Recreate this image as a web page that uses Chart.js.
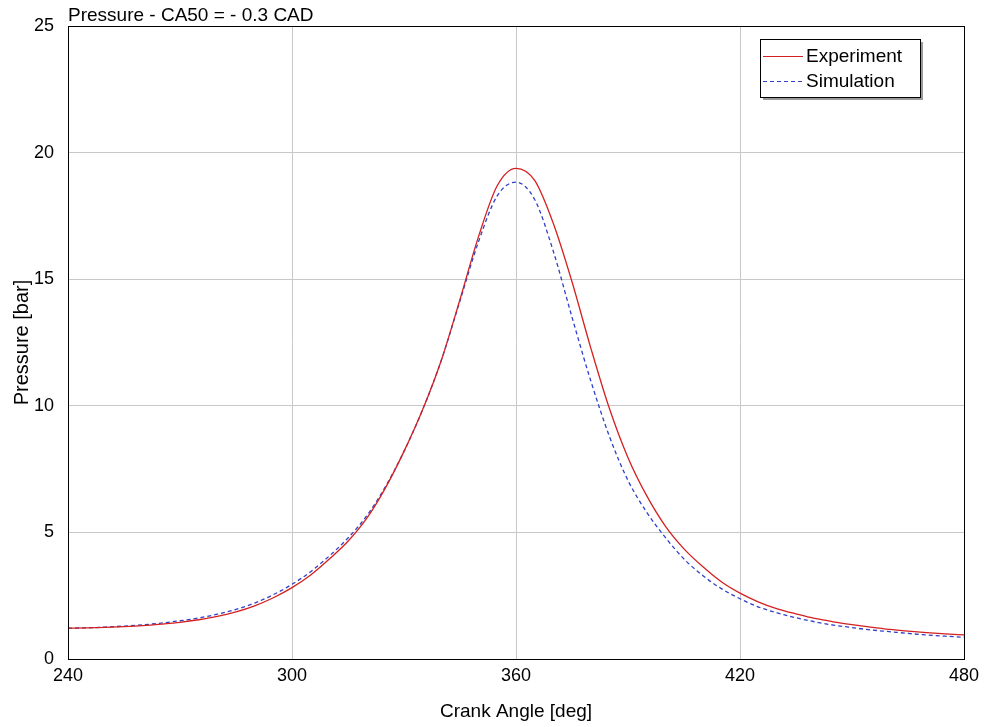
<!DOCTYPE html>
<html>
<head>
<meta charset="utf-8">
<script src="https://cdn.jsdelivr.net/npm/chart.js@4"></script>
<style>
  html, body { margin: 0; padding: 0; background: #fff; }
  #wrap { width: 990px; height: 727px; }
</style>
</head>
<body>
<div id="wrap"><canvas id="pressureChart" width="990" height="727"></canvas></div>
<script>
// --- data ---
const chartTitle = 'Pressure - CA50 = - 0.3 CAD';
const crankAngle = [240, 245, 250, 255, 260, 265, 270, 275, 280, 285, 290, 295, 300, 305, 310, 315, 320, 325, 330, 335,
                    340, 345, 350, 355, 360, 365, 370, 375, 380, 385, 390, 395, 400, 405, 410, 415, 420, 425, 430, 435,
                    440, 445, 450, 455, 460, 465, 470, 475, 480];
const experiment = [1.22, 1.23, 1.25, 1.28, 1.32, 1.38, 1.45, 1.55, 1.68, 1.86, 2.10, 2.42, 2.82, 3.32, 3.95, 4.65, 5.55, 6.75, 8.2, 9.85,
                    11.8, 14.2, 16.7, 18.7, 19.38, 18.9, 17.2, 14.9, 12.3, 9.9, 7.95, 6.45, 5.25, 4.35, 3.65, 3.05, 2.6, 2.25, 1.98, 1.78,
                    1.6, 1.47, 1.36, 1.26, 1.17, 1.1, 1.04, 0.99, 0.95];
const simulation = [1.22, 1.23, 1.26, 1.30, 1.35, 1.42, 1.51, 1.62, 1.77, 1.96, 2.21, 2.54, 2.95, 3.45, 4.07, 4.78, 5.65, 6.8, 8.2, 9.85,
                    11.8, 14.15, 16.5, 18.3, 18.83, 18.15, 16.1, 13.5, 11.0, 8.8, 7.05, 5.8, 4.8, 3.95, 3.3, 2.78, 2.38, 2.05, 1.82, 1.63,
                    1.47, 1.34, 1.24, 1.15, 1.08, 1.01, 0.95, 0.9, 0.86];
const xTicks = [240, 300, 360, 420, 480];
const yTicks = [0, 5, 10, 15, 20, 25];

const FONT = '"Liberation Sans", Arial, sans-serif';

// frame, title and shadowed legend box, drawn on the canvas
const decorPlugin = {
    id: 'decor',
    afterDraw(chart) {
        const ctx = chart.ctx;
        const area = chart.chartArea;
        ctx.save();
        ctx.strokeStyle = '#000';
        ctx.lineWidth = 1;
        ctx.strokeRect(area.left + 0.5, area.top + 0.5, area.right - area.left, area.bottom - area.top);

        // title
        ctx.fillStyle = '#000';
        ctx.font = '19px ' + FONT;
        ctx.textBaseline = 'alphabetic';
        ctx.textAlign = 'left';
        ctx.fillText(chartTitle, area.left, area.top - 5);

        // legend
        const lx = 760, ly = 39, lw = 160, lh = 58;
        ctx.fillStyle = '#9a9a9a';
        ctx.fillRect(lx + 3, ly + 3, lw, lh);
        ctx.fillStyle = '#fff';
        ctx.fillRect(lx, ly, lw, lh);
        ctx.strokeStyle = '#000';
        ctx.strokeRect(lx + 0.5, ly + 0.5, lw, lh);
        chart.data.datasets.forEach((ds, i) => {
            const y = ly + 17 + i * 25;
            ctx.beginPath();
            ctx.strokeStyle = ds.borderColor;
            ctx.lineWidth = 1;
            ctx.setLineDash(ds.borderDash || []);
            ctx.moveTo(lx + 3, y + 0.5);
            ctx.lineTo(lx + 43, y + 0.5);
            ctx.stroke();
            ctx.setLineDash([]);
            ctx.fillStyle = '#000';
            ctx.font = '19px ' + FONT;
            ctx.textBaseline = 'middle';
            ctx.fillText(ds.label, lx + 46, y + 1);
        });
        ctx.restore();
    }
};

function renderPressureChart() {
    const ctx = document.getElementById('pressureChart').getContext('2d');

    new Chart(ctx, {
        type: 'line',
        data: {
            datasets: [
                {
                    label: 'Experiment',
                    data: crankAngle.map((a, i) => ({ x: a, y: experiment[i] })),
                    borderColor: '#d42020',
                    borderWidth: 1.3,
                    pointRadius: 0,
                    cubicInterpolationMode: 'monotone',
                    fill: false
                },
                {
                    label: 'Simulation',
                    data: crankAngle.map((a, i) => ({ x: a, y: simulation[i] })),
                    borderColor: '#3040c8',
                    borderWidth: 1.3,
                    borderDash: [4, 3],
                    pointRadius: 0,
                    cubicInterpolationMode: 'monotone',
                    fill: false
                }
            ]
        },
        options: {
            responsive: false,
            animation: false,
            layout: { padding: { top: 26, right: 26, left: 10, bottom: 0 } },
            scales: {
                x: {
                    type: 'linear',
                    min: 240,
                    max: 480,
                    afterBuildTicks: axis => { axis.ticks = xTicks.map(v => ({ value: v })); },
                    afterFit: axis => { axis.height = 68; },
                    grid: { color: '#c8c8c8', drawTicks: false },
                    border: { display: false },
                    ticks: { color: '#000', padding: 6, maxRotation: 0, font: { family: FONT, size: 18 } },
                    title: { display: true, text: 'Crank Angle [deg]', color: '#000', padding: { top: 10 }, font: { family: FONT, size: 19 } }
                },
                y: {
                    min: 0,
                    max: 25,
                    afterBuildTicks: axis => { axis.ticks = yTicks.map(v => ({ value: v })); },
                    afterFit: axis => { axis.width = 58; },
                    grid: { color: '#c8c8c8', drawTicks: false },
                    border: { display: false },
                    ticks: { color: '#000', padding: 14, font: { family: FONT, size: 18 } },
                    title: { display: true, text: 'Pressure [bar]', color: '#000', padding: { top: 0, bottom: 0 }, font: { family: FONT, size: 20 } }
                }
            },
            plugins: {
                legend: { display: false },
                tooltip: { enabled: false }
            }
        },
        plugins: [decorPlugin]
    });
}

renderPressureChart();
</script>
</body>
</html>
